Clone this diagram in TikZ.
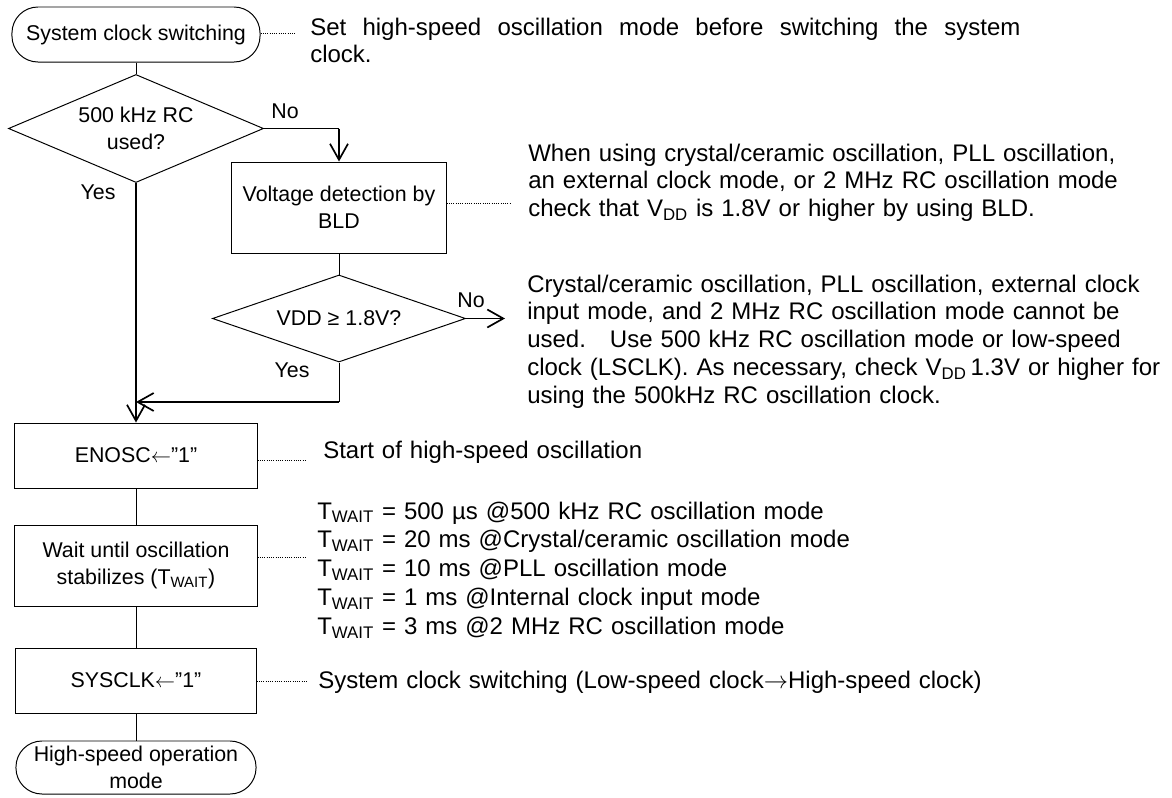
\documentclass[tikz,border=0pt]{standalone}
\usepackage{fontspec}
\setmainfont{Liberation Sans}
\usetikzlibrary{shapes.geometric,arrows.meta}

\tikzset{
  boxtext/.style={font=\fontsize{15.2}{19.2}\selectfont,align=center,inner sep=0pt},
  term/.style={boxtext,draw,line width=0.7pt,rounded corners=0.65cm},
  proc/.style={boxtext,draw,line width=0.7pt},
  decide/.style={boxtext,draw,diamond,line width=0.7pt},
  lbl/.style={boxtext},
  note/.style={font=\fontsize{17.07}{19.9}\selectfont,align=left,inner sep=0pt,anchor=base west},
  link/.style={line width=0.7pt},
  flow/.style={line width=1.4pt,-{Straight Barb[length=0.4cm,width=0.45cm,line width=1.2pt]}},
  leader/.style={line width=0.6pt,dash pattern=on 0.8pt off 0.8pt}
}

\begin{document}
\begin{tikzpicture}[x=0.025cm,y=-0.025cm]
    \useasboundingbox (0,0) rectangle (1172,797);

    \node[term,minimum width=6.2cm,minimum height=1.375cm] (start) at (136,34.5) {System clock switching};
    \node[decide,shape aspect=2.36,minimum width=6.375cm,minimum height=2.7cm] (used) at (136,128.5) {500 kHz RC\\used?};
    \node[proc,minimum width=5.35cm,minimum height=2.275cm] (bld) at (339,207.5) {Voltage detection by\\BLD};
    \node[decide,shape aspect=2.9,minimum width=6.325cm,minimum height=2.175cm] (vdd) at (339,318.5) {VDD ≥ 1.8V?};
    \node[proc,minimum width=6.05cm,minimum height=1.625cm] (enosc) at (136,455.5) {ENOSC$\leftarrow$”1”};
    \node[proc,minimum width=6.05cm,minimum height=2.025cm] (wait) at (136,565.5) {Wait until oscillation\\stabilizes (T\textsubscript{WAIT})};
    \node[proc,minimum width=6cm,minimum height=1.625cm] (sysclk) at (136,680.5) {SYSCLK$\leftarrow$”1”};
    \node[term,minimum width=6cm,minimum height=1.325cm] (stop) at (136,767.5) {High-speed operation\\mode};

    \node[lbl] (no1) at (285,111) {No};
    \node[lbl] (yes1) at (98,192) {Yes};
    \node[lbl] (no2) at (471,300) {No};
    \node[lbl] (yes2) at (292,370) {Yes};

    \draw[link] (start) -- (used);
    \draw[link] (used.east) -- (used.east -| bld.north);
    \draw[flow] (used.east -| bld.north) -- (bld.north);
    \draw[link] (bld) -- (vdd);
    \coordinate (vddno) at (505,318.5);
    \draw[flow] (vdd.east) -- (vddno);
    \coordinate (merge) at (339,402);
    \draw[link] (vdd.south) -- (merge);
    \draw[flow] (merge) -- (merge -| used.south);
    \draw[flow] (used.south) -- (enosc.north);
    \draw[link] (enosc) -- (wait);
    \draw[link] (wait) -- (sysclk);
    \draw[link] (sysclk) -- (stop);

    % dotted leaders to the notes
    \coordinate (setend) at (295,33);
    \coordinate (bldend) at (510,203);
    \coordinate (enoscend) at (307,460);
    \coordinate (waitend) at (307,557);
    \coordinate (sysclkend) at (307,681);
    \draw[leader] (start.east |- setend) -- (setend);
    \draw[leader] (bld.east |- bldend) -- (bldend);
    \draw[leader] (enosc.east |- enoscend) -- (enoscend);
    \draw[leader] (wait.east |- waitend) -- (waitend);
    \draw[leader] (sysclk.east |- sysclkend) -- (sysclkend);

    \node[note,text width=17.75cm,align=justify] (setnote) at (310,35)
    {Set high-speed oscillation mode before switching the system\linebreak clock.};
    \node[note,text width=16cm] (bldnote) at (528,161)
    {When using crystal/ceramic oscillation, PLL oscillation,\\
    an external clock mode, or 2 MHz RC oscillation mode\\
    check that V\textsubscript{DD} is 1.8V or higher by using BLD.};
    \node[note,text width=16cm] (vddnote) at (527,292)
    {Crystal/ceramic oscillation, PLL oscillation, external clock\\
    input mode, and 2 MHz RC oscillation mode cannot be\\
    used.\ \ \ Use 500 kHz RC oscillation mode or low-speed\\
    clock (LSCLK). As necessary, check V\textsubscript{DD}\,1.3V or higher for\\
    using the 500kHz RC oscillation clock.};
    \node[note,text width=20cm] (enoscnote) at (323,458) {Start of high-speed oscillation};
    \node[note,text width=20cm,font=\fontsize{17.07}{20.6}\selectfont] (waitnote) at (317,519)
    {T\textsubscript{WAIT} = 500 µs @500 kHz RC oscillation mode\\
    T\textsubscript{WAIT} = 20 ms @Crystal/ceramic oscillation mode\\
    T\textsubscript{WAIT} = 10 ms @PLL oscillation mode\\
    T\textsubscript{WAIT} = 1 ms @Internal clock input mode\\
    T\textsubscript{WAIT} = 3 ms @2 MHz RC oscillation mode};
    \node[note,text width=20cm] (sysclknote) at (318,688)
    {System clock switching (Low-speed clock$\rightarrow$High-speed clock)};
\end{tikzpicture}
\end{document}
